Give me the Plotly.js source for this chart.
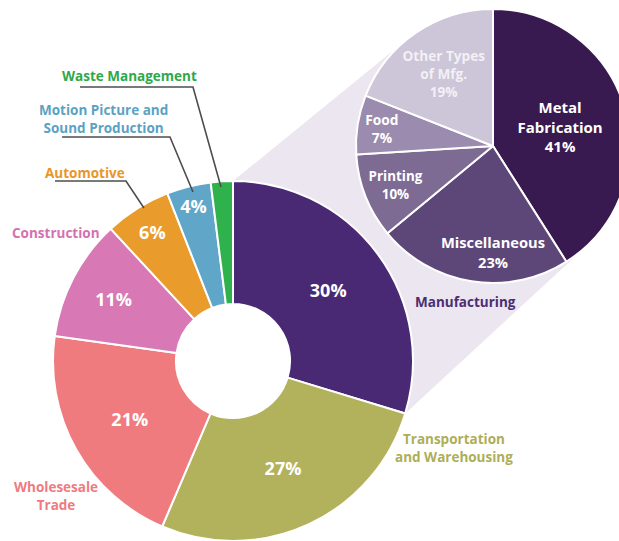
<!DOCTYPE html>
<html><head><meta charset="utf-8">
<script src="https://cdn.plot.ly/plotly-3.0.1.min.js"></script>
<style>html,body{margin:0;padding:0;overflow:hidden;background:#fff}#c{width:650px;height:541px}</style>
</head><body><div id="c"></div>
<script>
// Main donut: industries (share of total, %)
const mainLabels = ['Manufacturing','Transportation and Warehousing','Wholesesale Trade','Construction','Automotive','Motion Picture and Sound Production','Waste Management'];
const mainValues = [30, 27, 21, 11, 6, 4, 2];
const mainText = ['30%','27%','21%','11%','6%','4%',''];
const mainColors = ['#4a2974','#b3b25c','#f07b7f','#d878b5','#e99b2b','#5fa6c9','#2fb24c'];

// Breakdown of manufacturing (%)
const mfgLabels = ['Metal<br>Fabrication','Miscellaneous','Printing','Food','Other Types<br>of Mfg.'];
const mfgValues = [41, 23, 10, 7, 19];
const mfgColors = ['#381a50','#5d4678','#7e6b94','#9b8bae','#cdc5d8'];

const W = 650, H = 541;
const px = x => x / W, py = y => 1 - y / H;

// geometry (pixels)
const M = {cx: 233, cy: 361, r: 180};
const S = {cx: 493, cy: 146, r: 137};

function dom(c) {
  return {x: [px(c.cx - c.r), px(c.cx + c.r)], y: [py(c.cy + c.r), py(c.cy - c.r)]};
}

const fontFam = '"Open Sans", Lato, sans-serif';

const traces = [
  {
    type: 'pie', labels: mainLabels, values: mainValues, text: mainText,
    textinfo: 'text', textposition: 'inside', insidetextorientation: 'horizontal',
    sort: false, direction: 'clockwise', rotation: 0, hole: 0.317,
    marker: {colors: mainColors, line: {color: '#ffffff', width: 2}},
    textfont: {family: fontFam, size: 18, color: '#ffffff', weight: 700},
    domain: dom(M), hoverinfo: 'label+percent', showlegend: false
  },
  {
    type: 'pie', labels: mfgLabels, values: mfgValues,
    texttemplate: '%{label}<br>%{value}%',
    textposition: 'inside', insidetextorientation: 'horizontal',
    sort: false, direction: 'clockwise', rotation: 0,
    marker: {colors: mfgColors, line: {color: '#ffffff', width: 2}},
    textfont: {family: fontFam, size: 15, color: ['#ffffff','#ffffff','#ffffff','#ffffff','#f3f0f6'], weight: 700},
    domain: dom(S), hoverinfo: 'label+percent', showlegend: false
  }
];

// connector wedge (tangents from Manufacturing slice to the breakdown pie)
function tangentPoint(P, C, side) {
  const dx = C.cx - P[0], dy = C.cy - P[1];
  const d = Math.hypot(dx, dy);
  const a = Math.atan2(dy, dx) + side * Math.asin(C.r / d);
  const L = Math.sqrt(d * d - C.r * C.r);
  return [P[0] + L * Math.cos(a), P[1] + L * Math.sin(a)];
}
const ang0 = 0, ang1 = mainValues[0] / mainValues.reduce((a, b) => a + b, 0) * 2 * Math.PI;
const A = [M.cx + M.r * Math.sin(ang0), M.cy - M.r * Math.cos(ang0)];
const B = [M.cx + M.r * Math.sin(ang1), M.cy - M.r * Math.cos(ang1)];
const TA = tangentPoint(A, S, -1);
const TB = tangentPoint(B, S, 1);
const pt = p => px(p[0]).toFixed(4) + ',' + py(p[1]).toFixed(4);
const wedgePath = 'M' + pt(A) + ' L' + pt(TA) + ' L' + pt([S.cx, S.cy]) + ' L' + pt(TB) + ' L' + pt(B) + ' Z';

const shapes = [
  {type: 'path', xref: 'paper', yref: 'paper', path: wedgePath, fillcolor: '#ece6f1', line: {width: 0}, layer: 'below'}
];
function leader(points) {
  shapes.push({type: 'path', xref: 'paper', yref: 'paper',
    path: points.map((p, i) => (i ? 'L' : 'M') + pt(p)).join(' '),
    line: {color: '#4d4d4d', width: 1.6}, layer: 'above'});
}
leader([[80, 87], [193, 87], [221, 187]]);
leader([[62, 137], [170, 137], [193, 192]]);
leader([[55, 181], [126, 181], [144, 208]]);

function ann(x, y, text, color) {
  return {xref: 'paper', yref: 'paper', x: px(x), y: py(y), text: text, showarrow: false,
    xanchor: 'center', yanchor: 'middle', align: 'center',
    font: {family: fontFam, size: 13.5, color: color, weight: 700}};
}
const annotations = [
  ann(129, 76, 'Waste Management', '#2fa84a'),
  ann(103, 119, 'Motion Picture and<br>Sound Production', '#5aa2c4'),
  ann(85, 173, 'Automotive', '#e8962a'),
  ann(56, 233, 'Construction', '#d670b0'),
  ann(56, 496, 'Wholesesale<br>Trade', '#ee7b80'),
  ann(465, 302, 'Manufacturing', '#4a2d72'),
  ann(454, 448, 'Transportation<br>and Warehousing', '#adae58')
];

const layout = {
  width: W, height: H, margin: {l: 0, r: 0, t: 0, b: 0},
  paper_bgcolor: '#ffffff', plot_bgcolor: '#ffffff',
  font: {family: fontFam}, showlegend: false,
  shapes: shapes, annotations: annotations
};
Plotly.newPlot('c', traces, layout, {displayModeBar: false, staticPlot: true});
</script></body></html>
